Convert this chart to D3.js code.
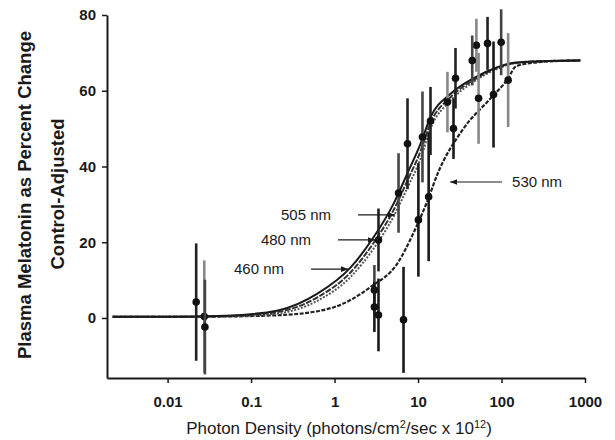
<!DOCTYPE html>
<html>
<head>
<meta charset="utf-8">
<script src="https://cdn.jsdelivr.net/npm/d3@7"></script>
<style>
  body { margin: 0; background: #fff; }
  text { font-family: Arial, "Liberation Sans", sans-serif; fill: #1a1a1a; }
</style>
</head>
<body>
<script>
// fitted curves as [photon density, % change]
const curve460 = [[0.0022,0.3],[0.01,0.3],[0.05,0.6],[0.21,2.0],[0.63,6.5],[1.55,13.3],[2.93,21.3],[5.1,30.2],[7.5,38.3],[10.7,46],[14.1,53],[24.5,59.2],[46,63.3],[89,66.2],[140,67.4],[300,67.8],[880,68]];
const curve480 = [[0.0022,0.3],[0.01,0.3],[0.05,0.5],[0.21,1.6],[0.63,5.5],[1.55,12],[2.93,19.8],[5.1,28.5],[7.5,36.4],[10.7,44],[14.1,51.5],[24.5,58.3],[46,62.8],[89,66],[140,67.3],[300,67.8],[880,68]];
const curve505 = [[0.0022,0.3],[0.01,0.3],[0.05,0.4],[0.21,1.2],[0.63,4.6],[1.55,10.8],[2.93,18.3],[5.1,26.8],[7.5,34.5],[10.7,42],[14.1,50],[24.5,57.4],[46,62.3],[89,65.8],[140,67.2],[300,67.8],[880,68]];
const curve530 = [[0.0022,0.3],[0.01,0.3],[0.05,0.4],[0.245,0.8],[1,2.9],[2.7,8.2],[5.7,14.5],[8.8,22.4],[13,31],[17.1,38],[35,50],[74,58],[118,63],[150,66.5],[300,67.6],[880,68]];

// measured points: [photon density, mean, error]
const pts460 = [[0.022,4.2,15.5],[3.36,20.6,8.3],[7.48,46,12],[14.1,52,9],[28.1,63.3,8],[68,72.5,7]];
const pts480 = [[0.028,-2.4,12.5],[3.0,7.4,6.6],[5.84,33,10.5],[11.3,47.8,12],[44.6,68,6.6],[99,72.8,8.7]];
const pts505 = [[0.0275,0.4,14.8],[22.5,57,8],[50,72,7],[53.1,58,12],[120,62.8,12.4]];
const pts530 = [[3.0,2.9,6.6],[3.36,0.8,9.6],[6.7,-0.5,14],[10.1,25.9,15],[13.4,32,17],[26.6,50,8],[80.2,59,14]];

const xTicks = [0.01, 0.1, 1, 10, 100, 1000];
const xTickLabels = ["0.01", "0.1", "1", "10", "100", "1000"];
const yTicks = [0, 20, 40, 60, 80];

const labelNames = ["460 nm", "480 nm", "505 nm", "530 nm"];
const labelTipX = [1.45, 3.05, 5.3, 24.2];
const labelTipY = [12.9, 20.6, 27.2, 35.9];

const width = 615, height = 440;
const svg = d3.select("body").append("svg").attr("width", width).attr("height", height);

const x = d3.scaleLog().domain([0.00188, 1000]).range([107, 585]);
const y = d3.scaleLinear().domain([-15.85, 80]).range([378, 15]);

// axes
const minorX = [];
for (let e = -3; e < 3; e++) for (let m = 2; m < 10; m++) {
  const v = m * 10 ** e;
  if (v > 0.0019 && v < 1000) minorX.push(v);
}
const xg = svg.append("g").attr("transform", "translate(0,378)");
xg.call(d3.axisBottom(x).tickValues(minorX).tickFormat("").tickSize(3).tickSizeOuter(0));
xg.call(d3.axisBottom(x).tickValues(xTicks).tickFormat((d, i) => xTickLabels[i]).tickSize(5).tickSizeOuter(0).tickPadding(13));

const yg = svg.append("g").attr("transform", "translate(107,0)");
yg.call(d3.axisLeft(y).tickValues(d3.range(-15, 81, 5)).tickFormat("").tickSize(3).tickSizeOuter(0));
yg.call(d3.axisLeft(y).tickValues(yTicks).tickSize(5).tickSizeOuter(0).tickPadding(6));

svg.selectAll(".domain").attr("stroke", "#1a1a1a").attr("stroke-width", 2);
svg.selectAll(".tick line").attr("stroke", "#1a1a1a").attr("stroke-width", 1.5);
svg.selectAll(".tick text").attr("font-size", 15).attr("font-weight", "bold").attr("fill", "#1a1a1a");

// titles
svg.append("text")
  .attr("transform", "translate(25,195) rotate(-90)")
  .attr("text-anchor", "middle").attr("dy", "0.35em")
  .attr("font-size", 18.5).attr("font-weight", "bold")
  .text("Plasma Melatonin as Percent Change");
svg.append("text")
  .attr("transform", "translate(58,194) rotate(-90)")
  .attr("text-anchor", "middle").attr("dy", "0.35em")
  .attr("font-size", 18.5).attr("font-weight", "bold")
  .text("Control-Adjusted");

const xt = svg.append("text").attr("x", 339).attr("y", 434).attr("text-anchor", "middle").attr("font-size", 17);
xt.append("tspan").text("Photon Density (photons/cm");
xt.append("tspan").attr("font-size", 11).attr("dy", -6).text("2");
xt.append("tspan").attr("dy", 6).text("/sec x 10");
xt.append("tspan").attr("font-size", 11).attr("dy", -6).text("12");
xt.append("tspan").attr("dy", 6).text(")");

// curves
const line = d3.line().x(d => x(d[0])).y(d => y(d[1])).curve(d3.curveMonotoneX);
const curves = [
  { data: curve530, color: "#222", dash: "4,1.5", w: 2.2 },
  { data: curve505, color: "#555", dash: "2,1.5", w: 2 },
  { data: curve480, color: "#333", dash: "6,1.5", w: 2 },
  { data: curve460, color: "#1a1a1a", dash: null, w: 2 }
];
curves.forEach(c => {
  svg.append("path").attr("d", line(c.data)).attr("fill", "none")
    .attr("stroke", c.color).attr("stroke-width", c.w)
    .attr("stroke-dasharray", c.dash);
});

// error bars and points
const series = [
  { pts: pts505, bar: "#888" },
  { pts: pts480, bar: "#444" },
  { pts: pts530, bar: "#1a1a1a" },
  { pts: pts460, bar: "#222" }
];
series.forEach(s => {
  const g = svg.append("g");
  g.selectAll("line").data(s.pts).join("line")
    .attr("x1", d => x(d[0])).attr("x2", d => x(d[0]))
    .attr("y1", d => y(d[1] - d[2])).attr("y2", d => y(d[1] + d[2]))
    .attr("stroke", s.bar).attr("stroke-width", 2.6);
  g.selectAll("circle").data(s.pts).join("circle")
    .attr("cx", d => x(d[0])).attr("cy", d => y(d[1])).attr("r", 3.8)
    .attr("fill", "#111");
});

// wavelength labels with arrows
svg.append("defs").append("marker")
  .attr("id", "head").attr("viewBox", "0 0 10 10").attr("refX", 10).attr("refY", 5)
  .attr("markerWidth", 7).attr("markerHeight", 7).attr("markerUnits", "userSpaceOnUse")
  .attr("orient", "auto")
  .append("path").attr("d", "M0,1 L10,5 L0,9 Z").attr("fill", "#1a1a1a");

labelNames.forEach((name, i) => {
  const tx = x(labelTipX[i]), ty = y(labelTipY[i]);
  const fromRight = i === 3;
  const len = fromRight ? 52 : 37;
  const sx = fromRight ? tx + len : tx - len;
  svg.append("line").attr("x1", sx).attr("y1", ty).attr("x2", tx).attr("y2", ty)
    .attr("stroke", "#1a1a1a").attr("stroke-width", 1.2).attr("marker-end", "url(#head)");
  svg.append("text")
    .attr("x", fromRight ? sx + 10 : sx - 27).attr("y", ty).attr("dy", "0.35em")
    .attr("text-anchor", fromRight ? "start" : "end")
    .attr("font-size", 15).text(name);
});
</script>
</body>
</html>
